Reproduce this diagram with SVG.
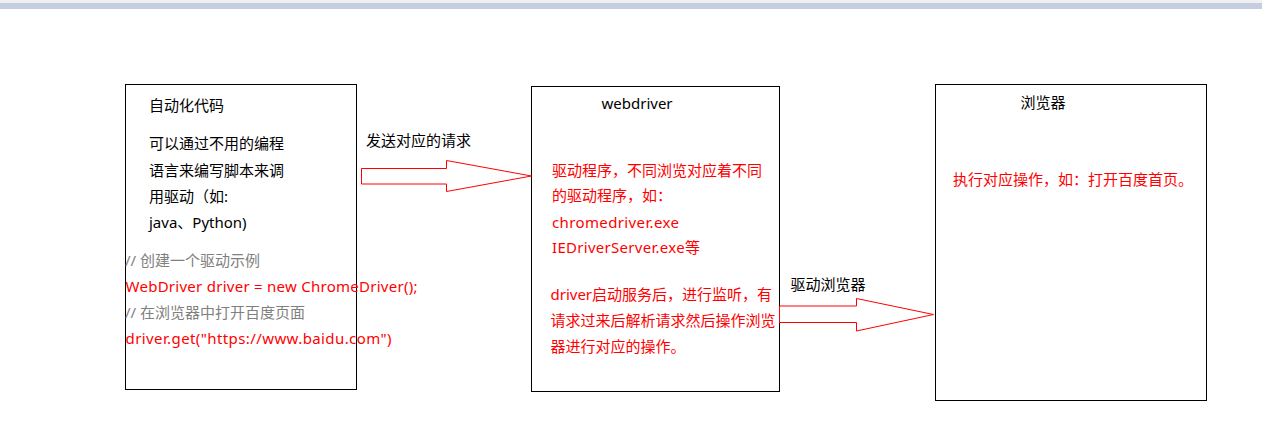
<svg xmlns="http://www.w3.org/2000/svg" width="1262" height="447" viewBox="0 0 1262 447">
<style>
text{font-family:"Microsoft YaHei","Noto Sans","Noto Sans CJK SC",sans-serif;font-size:15px}
.k{fill:#000}
.r{fill:#ff0000}
.g{fill:#808080}
.box{fill:#fff;stroke:#000;stroke-width:1}
.arr{fill:#fff;stroke:#ff0000;stroke-width:1}
</style>
<rect x="0" y="0" width="1262" height="447" fill="#fff"/>
<rect x="0" y="0" width="1262" height="3" fill="#f0f0f0"/>
<rect x="0" y="3" width="1262" height="6" fill="#c5cde0"/>
<g id="code">
<rect class="box" x="125.5" y="84.5" width="231" height="305"/>
<text class="k" x="149" y="110.5">自动化代码</text>
<text class="k" x="149" y="149">可以通过不用的编程</text>
<text class="k" x="149" y="175.5">语言来编写脚本来调</text>
<text class="k" x="149" y="201.5">用驱动（如:</text>
<text class="k" x="149" y="227.5">java、Python)</text>
<text class="g" x="125" y="266">// 创建一个驱动示例</text>
<text class="r" x="125.5" y="292" textLength="292" lengthAdjust="spacing">WebDriver driver = new ChromeDriver();</text>
<text class="g" x="125" y="318">// 在浏览器中打开百度页面</text>
<text class="r" x="125.5" y="343.5" textLength="266" lengthAdjust="spacing">driver.get("https://www.baidu.com")</text>
</g>
<g id="webdriver">
<rect class="box" x="531.5" y="86.5" width="248" height="305"/>
<text class="k" x="601.5" y="109">webdriver</text>
<text class="r" x="552" y="175.5">驱动程序，不同浏览对应着不同</text>
<text class="r" x="552" y="201">的驱动程序，如：</text>
<text class="r" x="552" y="227.5" textLength="127" lengthAdjust="spacing">chromedriver.exe</text>
<text class="r" x="552" y="253" textLength="148" lengthAdjust="spacing">IEDriverServer.exe等</text>
<text class="r" x="550.5" y="300">driver启动服务后，进行监听，有</text>
<text class="r" x="550.5" y="325.5">请求过来后解析请求然后操作浏览</text>
<text class="r" x="550.5" y="351.5">器进行对应的操作。</text>
</g>
<g id="browser">
<rect class="box" x="935.5" y="84.5" width="271" height="316"/>
<text class="k" x="1020.5" y="107.5">浏览器</text>
<text class="r" x="953" y="185">执行对应操作，如：打开百度首页。</text>
</g>
<g id="connectors">
<polygon class="arr" points="361.5,168.5 446.5,168.5 446.5,160.5 531.5,176 446.5,191.5 446.5,184 361.5,184"/>
<text class="k" x="366" y="146">发送对应的请求</text>
<polygon class="arr" points="779.5,306 856.5,306 856.5,298.5 933.5,314.5 856.5,331 856.5,322.5 779.5,322.5"/>
<text class="k" x="790.5" y="290">驱动浏览器</text>
</g>
</svg>
